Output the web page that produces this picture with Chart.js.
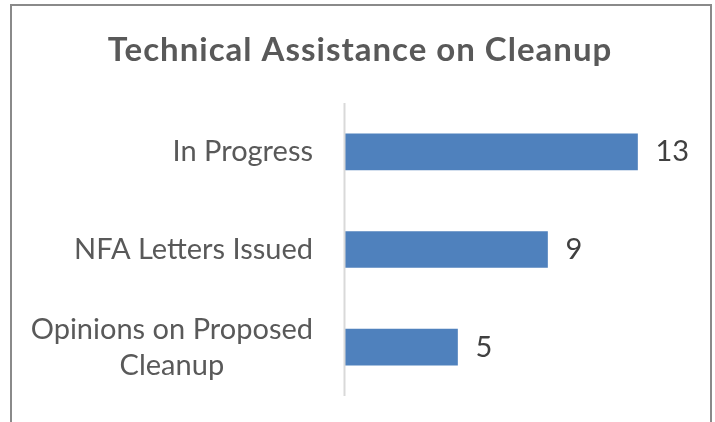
<!DOCTYPE html>
<html lang="en">
<head>
  <meta charset="UTF-8">
  <title>Technical Assistance on Cleanup</title>
  <script src="https://cdn.jsdelivr.net/npm/chart.js"></script>
  <style>
    html, body {
      margin: 0;
      padding: 0;
      background: #ffffff;
      overflow: hidden;
    }
    .wrap {
      position: relative;
      width: 715px;
      height: 422px;
    }
    .frame {
      position: absolute;
      left: 10px;
      top: 4px;
      width: 698px;
      height: 440px;
      border: 2px solid #8a8a8a;
      pointer-events: none;
    }
    canvas {
      position: absolute;
      left: 0;
      top: 0;
    }
  </style>
</head>
<body>
  <div class="wrap">
    <canvas id="chart" width="715" height="422"></canvas>
    <div class="frame"></div>
  </div>

  <script>
    // chart data
    const chartTitle = 'Technical Assistance on Cleanup';
    const categories = ['In Progress', 'NFA Letters Issued', ['Opinions on Proposed', 'Cleanup']];
    const counts = [13, 9, 5];
    const axisMax = 14;

    const fontFamily = "Lato, 'Open Sans', sans-serif";

    // title, category labels, axis line and value labels
    const decorPlugin = {
      id: 'decor',
      afterDatasetsDraw(chart) {
        const ctx = chart.ctx;
        const area = chart.chartArea;
        const yScale = chart.scales.y;

        ctx.save();

        // title
        ctx.fillStyle = '#595959';
        ctx.font = 'bold 33px ' + fontFamily;
        ctx.letterSpacing = '1px';
        ctx.textAlign = 'center';
        ctx.textBaseline = 'middle';
        ctx.fillText(chartTitle, 360, 50);
        ctx.letterSpacing = '0px';

        // vertical axis line
        ctx.strokeStyle = '#d9d9d9';
        ctx.lineWidth = 2;
        ctx.beginPath();
        ctx.moveTo(area.left - 0.5, area.top);
        ctx.lineTo(area.left - 0.5, area.bottom);
        ctx.stroke();

        // category labels (block right aligned, lines centred within it)
        ctx.font = '29px ' + fontFamily;
        ctx.fillStyle = '#595959';
        ctx.textAlign = 'center';
        const lineH = 36;
        categories.forEach((cat, i) => {
          const lines = Array.isArray(cat) ? cat : [cat];
          const widest = Math.max(...lines.map(l => ctx.measureText(l).width));
          const cx = area.left - 32 - widest / 2;
          const cy = yScale.getPixelForValue(i);
          const y0 = cy - (lines.length - 1) * lineH / 2;
          lines.forEach((l, j) => ctx.fillText(l, cx, y0 + j * lineH));
        });

        // value labels
        ctx.fillStyle = '#404040';
        ctx.textAlign = 'left';
        const meta = chart.getDatasetMeta(0);
        meta.data.forEach((bar, i) => {
          ctx.fillText(String(counts[i]), bar.x + 18, bar.y);
        });

        ctx.restore();
      }
    };

    new Chart(document.getElementById('chart'), {
      type: 'bar',
      data: {
        labels: categories,
        datasets: [{
          data: counts,
          backgroundColor: '#4f81bd',
          borderWidth: 0,
          barThickness: 36
        }]
      },
      options: {
        indexAxis: 'y',
        responsive: false,
        animation: false,
        layout: {
          padding: { left: 345, right: 55, top: 103, bottom: 26 }
        },
        scales: {
          x: { display: false, min: 0, max: axisMax },
          y: { display: false }
        },
        plugins: {
          legend: { display: false },
          tooltip: { enabled: false }
        }
      },
      plugins: [decorPlugin]
    });
  </script>
</body>
</html>
